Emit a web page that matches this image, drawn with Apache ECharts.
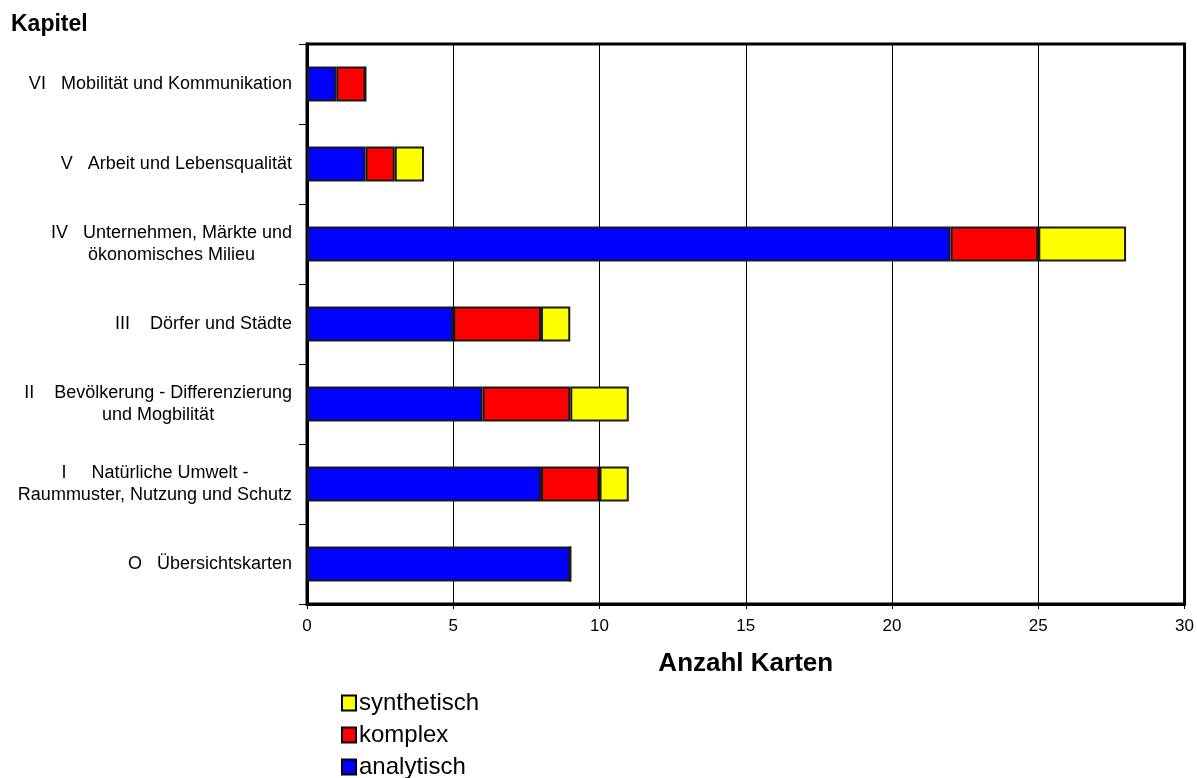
<!DOCTYPE html>
<html>
<head>
<meta charset="utf-8">
<script src="https://cdn.jsdelivr.net/npm/echarts@6/dist/echarts.min.js"></script>
<style>
  html, body { margin: 0; padding: 0; background: #fff; }
  #chart { width: 1197px; height: 778px; }
</style>
</head>
<body>
<div id="chart"></div>
<script>
// Chapters, bottom to top
const kapitel = [
  'O   Übersichtskarten',
  'I     Natürliche Umwelt -\nRaummuster, Nutzung und Schutz',
  'II    Bevölkerung - Differenzierung\nund Mogbilität',
  'III    Dörfer und Städte',
  'IV   Unternehmen, Märkte und\nökonomisches Milieu',
  'V   Arbeit und Lebensqualität',
  'VI   Mobilität und Kommunikation'
];
// Number of maps per type
const analytisch  = [9, 8, 6, 5, 22, 2, 1];
const komplex     = [0, 2, 3, 3, 3, 1, 1];
const synthetisch = [0, 1, 2, 1, 3, 1, 0];

const xTicks = { min: 0, max: 30, interval: 5 };

const font = '"Liberation Sans", Arial, sans-serif';
const barBorder = { borderColor: '#1a1a1a', borderWidth: 2 };

function barSeries(name, data, color) {
  return {
    name: name,
    type: 'bar',
    stack: 'karten',
    barWidth: '44%',
    data: data,
    itemStyle: Object.assign({ color: color }, barBorder),
    emphasis: { disabled: true }
  };
}

const chart = echarts.init(document.getElementById('chart'), null, { renderer: 'canvas' });
chart.setOption({
  animation: false,
  backgroundColor: '#fff',
  title: {
    text: 'Kapitel',
    left: 11,
    top: 13,
    padding: 0,
    textStyle: { fontFamily: font, fontWeight: 'bold', fontSize: 23, color: '#000' }
  },
  grid: {
    left: 307, right: 12, top: 44, bottom: 174,
    show: true, borderColor: '#000', borderWidth: 3, backgroundColor: '#fff'
  },
  legend: {
    orient: 'vertical',
    left: 341,
    top: 689,
    height: 120,
    padding: 0,
    itemWidth: 14,
    itemHeight: 15,
    itemGap: 4,
    icon: 'rect',
    data: ['synthetisch', 'komplex', 'analytisch'],
    itemStyle: { borderColor: '#000', borderWidth: 2 },
    textStyle: { fontFamily: font, fontSize: 24, color: '#000', lineHeight: 28, padding: [0, 0, 0, -2] }
  },
  xAxis: {
    type: 'value',
    min: xTicks.min, max: xTicks.max, interval: xTicks.interval,
    name: 'Anzahl Karten',
    nameLocation: 'middle',
    nameGap: 47,
    nameTextStyle: { fontFamily: font, fontWeight: 'bold', fontSize: 26, color: '#000' },
    axisLine: { show: true, lineStyle: { color: '#000', width: 3 } },
    axisTick: { show: true, length: 5, lineStyle: { color: '#000', width: 1 } },
    axisLabel: { fontFamily: font, fontSize: 17, color: '#000', margin: 14 },
    splitLine: { show: true, lineStyle: { color: '#000', width: 1 } }
  },
  yAxis: {
    type: 'category',
    data: kapitel,
    axisLine: { show: true, lineStyle: { color: '#000', width: 3 } },
    axisTick: { show: true, length: 8, lineStyle: { color: '#000', width: 1 } },
    axisLabel: {
      margin: 15,
      fontFamily: font,
      fontSize: 18,
      color: '#000',
      lineHeight: 22,
      formatter: function (v) {
        return v.split('\n').map(function (l) { return '{c|' + l + '}'; }).join('\n');
      },
      rich: {
        c: { align: 'center', fontFamily: font, fontSize: 18, color: '#000', lineHeight: 22 }
      }
    }
  },
  series: [
    barSeries('analytisch', analytisch, '#0000ff'),
    barSeries('komplex', komplex, '#ff0000'),
    barSeries('synthetisch', synthetisch, '#ffff00')
  ]
});
</script>
</body>
</html>
